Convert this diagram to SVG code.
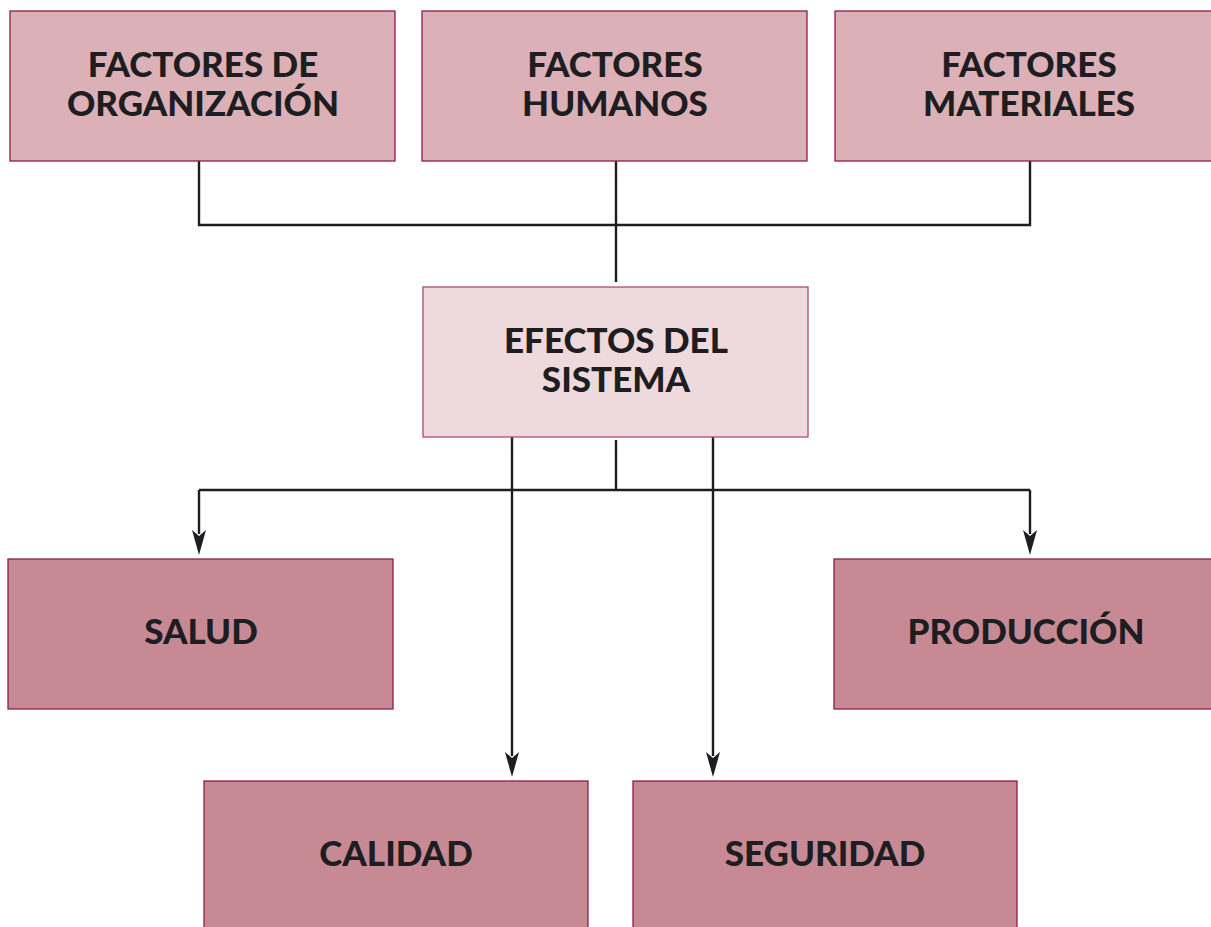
<svg xmlns="http://www.w3.org/2000/svg" width="1211" height="927" viewBox="0 0 1211 927">
<defs>
<style>
.t{font-family:Lato,"Liberation Sans",sans-serif;font-weight:900;font-size:35px;fill:#1e1e22;text-anchor:middle}
.a{fill:#dbb0b6;stroke:#8e1c4c;stroke-width:1.3}
.b{fill:#eed9dc;stroke:#b04a76;stroke-width:1.3}
.c{fill:#c78a95;stroke:#8e1c4c;stroke-width:1.3}
.l{stroke:#1e1e22;stroke-width:2.4;fill:none}
</style>
</defs>
<rect width="1211" height="927" fill="#ffffff"/>
<g id="connectors">
<path class="l" d="M199,161 V225 H1030 V161 M616,161 V282"/>
<path class="l" d="M616,440 V490 M199,490 H1030"/>
<path d="M199,490 V534 M1030,490 V534 M512,432 V756 M713,432 V756" class="l"/>
<path d="M192,530 L199,536 L206,530 L199,555 Z M1023,530 L1030,536 L1037,530 L1030,555 Z M505,752 L512,758 L519,752 L512,777 Z M706,752 L713,758 L720,752 L713,777 Z" fill="#1e1e22"/>
</g>
<g id="n1"><rect class="a" x="10" y="11" width="385" height="150"/><text class="t" x="203" y="77">FACTORES DE</text><text class="t" x="203" y="116">ORGANIZACIÓN</text></g>
<g id="n2"><rect class="a" x="422" y="11" width="385" height="150"/><text class="t" x="615" y="77">FACTORES</text><text class="t" x="615" y="116">HUMANOS</text></g>
<g id="n3"><rect class="a" x="835" y="11" width="390" height="150"/><text class="t" x="1029" y="77">FACTORES</text><text class="t" x="1029" y="116">MATERIALES</text></g>
<g id="n4"><rect class="b" x="423" y="287" width="385" height="150"/><text class="t" x="616" y="353">EFECTOS DEL</text><text class="t" x="616" y="392">SISTEMA</text></g>
<g id="n5"><rect class="c" x="8" y="559" width="385" height="150"/><text class="t" x="201" y="644">SALUD</text></g>
<g id="n6"><rect class="c" x="834" y="559" width="390" height="150"/><text class="t" x="1026" y="644">PRODUCCIÓN</text></g>
<g id="n7"><rect class="c" x="204" y="781" width="384" height="160"/><text class="t" x="396" y="866">CALIDAD</text></g>
<g id="n8"><rect class="c" x="633" y="781" width="384" height="160"/><text class="t" x="825" y="866">SEGURIDAD</text></g>
</svg>
